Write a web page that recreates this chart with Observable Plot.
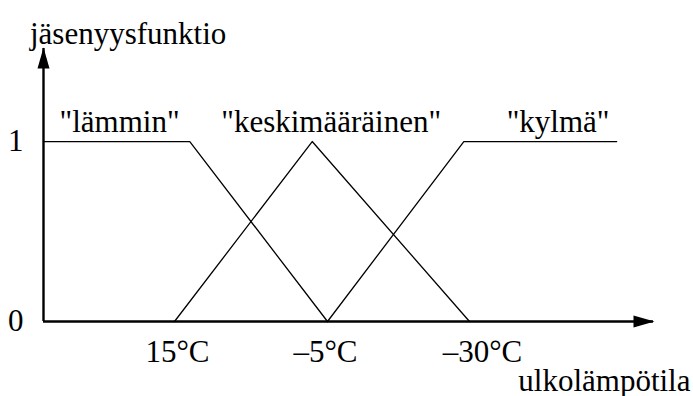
<!DOCTYPE html>
<html>
<head>
<meta charset="utf-8">
<script src="https://cdn.jsdelivr.net/npm/d3@7"></script>
<script src="https://cdn.jsdelivr.net/npm/@observablehq/plot@0.6"></script>
<style>
  html, body { margin: 0; padding: 0; background: #fff; font-family: "Liberation Serif", serif; }
  #wrap { position: relative; width: 693px; height: 396px; }
  #chart svg { display: block; }
  #ytitle { position: absolute; left: 30px; top: 18px; font-family: "Liberation Serif", serif;
            font-size: 31px; line-height: 31px; color: #000; white-space: nowrap; }
</style>
</head>
<body>
<div id="wrap">
  <div id="chart"></div>
  <div id="ytitle"></div>
</div>
<script>
// ---- data ----
const seriesNames = ["lämmin", "keskimääräinen", "kylmä"];
// x = outdoor temperature (°C), y = membership degree
const lamminX = [35, 13, -5];
const lamminY = [1, 1, 0];
const keskiX = [15, -3, -30];
const keskiY = [0, 1, 0];
const kylmaX = [-5, -29, -54];
const kylmaY = [0, 1, 1];
const xTickValues = [15, -5, -30];
const yTickValues = [0, 1];
const xAxisLabel = "ulkolämpötila";
const yAxisLabel = "jäsenyysfunktio";

// ---- build table ----
const seriesX = [lamminX, keskiX, kylmaX];
const seriesY = [lamminY, keskiY, kylmaY];
const rows = [];
seriesNames.forEach((name, i) => {
  seriesX[i].forEach((x, j) => rows.push({series: name, x, y: seriesY[i][j]}));
});
// label anchors: centre of each series' plateau at y = 1
const labelRows = seriesNames.map((name, i) => {
  const xs = seriesX[i].filter((x, j) => seriesY[i][j] === 1);
  return {series: name, text: `"${name}"`, x: d3.mean(xs), y: 1};
});

const xMin = 35, xMax = -60, yMax = 1.517;
const font = "Liberation Serif";
const fmtTemp = d => (d < 0 ? "\u2013" + Math.abs(d) : String(d)) + "\u00B0C";
const labelShift = [4, 19, 18];      // horizontal nudges of the series labels (px)
const tickShift = [3, -2, 13];       // horizontal nudges of the x tick labels (px)

const arrowHead = {
  draw(ctx) {
    ctx.moveTo(0, -1);
    ctx.lineTo(6, 20);
    ctx.lineTo(-6, 20);
    ctx.closePath();
  }
};

// y-axis title as HTML text above the plot
document.getElementById("ytitle").textContent = yAxisLabel;

const chart = Plot.plot({
  width: 693,
  height: 396,
  marginTop: 48,
  marginBottom: 75,
  marginLeft: 43,
  marginRight: 3,
  style: {fontFamily: font},
  x: {type: "linear", domain: [xMin, 15, -5, -30, xMax], range: [43, 174, 327, 469, 653], axis: null},
  y: {domain: [0, yMax], axis: null},
  marks: [
    // axes lines with filled arrowheads
    Plot.ruleY([0], {x1: xMin, x2: xMax, stroke: "black", strokeWidth: 2.4}),
    Plot.ruleX([xMin], {y1: 0, y2: yMax, stroke: "black", strokeWidth: 2.4}),
    Plot.dot([0], {x: xMin, y: yMax, symbol: arrowHead, fill: "black", stroke: "none"}),
    Plot.dot([0], {x: xMax, y: 0, symbol: arrowHead, fill: "black", stroke: "none", rotate: 90}),
    // x tick labels
    ...xTickValues.map((t, i) => Plot.axisX({ticks: [t], tickFormat: fmtTemp, tickSize: 0, tickPadding: 18,
                fontSize: 31, fontFamily: font, label: null, anchor: "bottom", dx: tickShift[i]})),
    // y tick labels
    Plot.axisY({ticks: yTickValues, tickFormat: d => String(d), tickSize: 0, tickPadding: 20,
                fontSize: 31, fontFamily: font, label: null, anchor: "left"}),
    // membership functions
    Plot.line(rows, {x: "x", y: "y", z: "series", stroke: "black", strokeWidth: 1.3}),
    // series labels
    ...labelRows.map((r, i) => Plot.text([r], {x: "x", y: "y", text: "text", dx: labelShift[i], dy: -10,
                          lineAnchor: "bottom", fontSize: 31, fontFamily: font, fill: "black"})),
    // x-axis title
    Plot.text([xAxisLabel], {frameAnchor: "bottom-right", text: d => d, textAnchor: "end",
                             lineAnchor: "bottom", dy: 69, fontSize: 31, fontFamily: font})
  ]
});
document.getElementById("chart").appendChild(chart);
</script>
</body>
</html>
